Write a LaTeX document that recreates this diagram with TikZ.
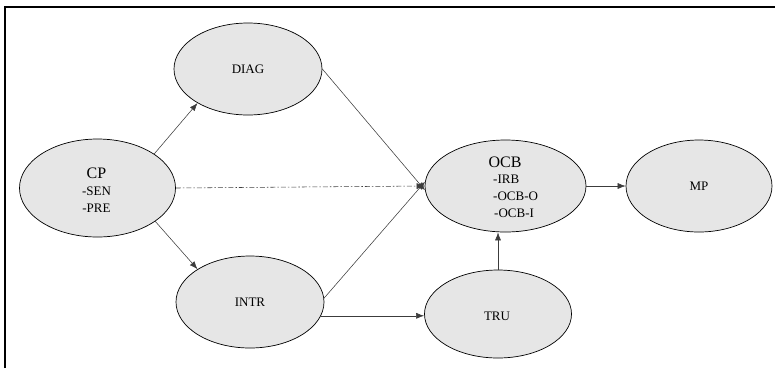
\documentclass[tikz,border=0pt]{standalone}
\usepackage{fontspec}
\setmainfont{Liberation Serif}
\usetikzlibrary{shapes.geometric,arrows.meta}
\definecolor{ellfill}{RGB}{230,230,230}
\definecolor{linegray}{RGB}{60,60,60}
\tikzset{
  oval/.style={ellipse, draw=black, line width=0.7pt, fill=ellfill, inner sep=0pt},
  arr/.style={draw=linegray, line width=0.55pt, -{Latex[length=8pt,width=6pt]}},
  dasharr/.style={arr, dash pattern=on 5pt off 2pt on 1.5pt off 2pt, draw=darkgray},
  lbl/.style={font=\fontsize{13}{15}\selectfont, anchor=base, inner sep=0pt},
  ttl/.style={font=\fontsize{16}{18}\selectfont, anchor=base, inner sep=0pt},
  sub/.style={font=\fontsize{13}{15}\selectfont, anchor=base west, inner sep=0pt},
}
\begin{document}
\begin{tikzpicture}[x=1pt,y=-1pt]
\useasboundingbox (0,0) rectangle (775,368);
\draw[line width=1.3pt] (5,368) -- (5,7) -- (775,7);

\node[oval, minimum width=148pt, minimum height=92pt] (DIAG) at (248,69) {};
\node[oval, minimum width=156pt, minimum height=98pt] (CP) at (97.5,188) {};
\node[oval, minimum width=148pt, minimum height=92pt] (INTR) at (250,302) {};
\node[oval, minimum width=161pt, minimum height=92pt] (OCB) at (505.5,186) {};
\node[oval, minimum width=147pt, minimum height=88pt] (TRU) at (498,314) {};
\node[oval, minimum width=146pt, minimum height=92pt] (MP) at (699,186) {};

\node[lbl] (tDIAG) at (248,73.5) {DIAG};
\node[lbl] (tINTR) at (250,306.5) {INTR};
\node[lbl] (tTRU) at (497,320.5) {TRU};
\node[lbl] (tMP) at (699,190.5) {MP};

\node[ttl] (tCP) at (96.5,178) {CP};
\node[lbl] (tSEN) at (96.5,195) {-SEN};
\node[lbl] (tPRE) at (96.5,212) {-PRE};

\node[ttl] (tOCB) at (505,167) {OCB};
\node[sub] (tIRB) at (493,183.5) {-IRB};
\node[sub] (tOCBO) at (493,200.5) {-OCB-O};
\node[sub] (tOCBI) at (494,217) {-OCB-I};

\draw[arr] (CP.31) -- (DIAG.214);
\draw[arr] (CP.-30) -- (INTR.148);
\draw[dasharr] (CP.east) -- (OCB.west);
\draw[arr] (DIAG.east) -- (OCB.183);
\draw[arr] (INTR.3) -- (OCB.177);
\draw[arr] (INTR.-11) -- (INTR.-11 -| TRU.west);
\draw[arr] (TRU.north) -- (TRU.north |- OCB.south);
\draw[arr] (OCB.east) -- (MP.west);
\end{tikzpicture}
\end{document}
